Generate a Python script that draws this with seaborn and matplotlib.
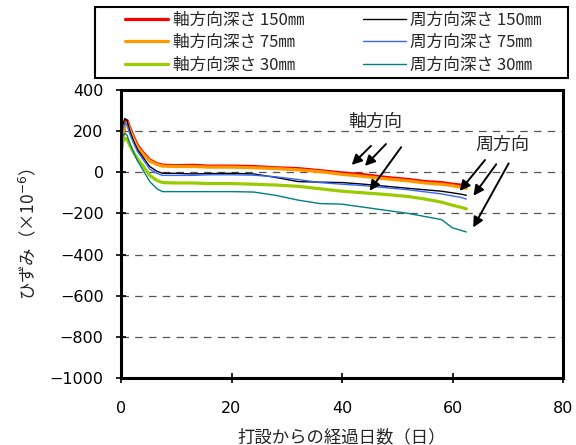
import matplotlib
matplotlib.use("Agg")
import matplotlib.pyplot as plt
from matplotlib.patches import Rectangle
import seaborn as sns
import pandas as pd
import numpy as np

sns.set_style("white")
plt.rcParams['font.family'] = ['Noto Sans CJK JP', 'DejaVu Sans']
plt.rcParams['axes.unicode_minus'] = True

days = [0, 0.3, 0.7, 1.1, 1.6, 2.3, 3.0, 4.0, 5.2, 6.5, 7.5, 10, 13, 16, 20, 24,
        28, 32, 36, 40, 44, 48, 52, 55, 58, 60, 61.5, 62.5]

axial_150 = [100, 180, 235, 252, 215, 170, 130, 95, 60, 42, 35, 32, 34, 30, 30, 28,
             22, 18, 8, -3, -12, -25, -35, -45, -50, -58, -62, -68]
axial_75 = [75, 160, 225, 242, 205, 160, 122, 88, 55, 38, 30, 28, 28, 25, 25, 22,
            18, 12, 3, -10, -20, -32, -42, -52, -58, -65, -72, -78]
axial_30 = [110, 150, 165, 160, 130, 95, 65, 30, -15, -40, -50, -52, -52, -55, -55, -58,
            -62, -68, -80, -92, -100, -108, -118, -130, -145, -160, -170, -178]
circ_150 = [150, 230, 262, 250, 200, 150, 110, 72, 28, 5, -5, -5, -8, -6, -5, -8,
            -25, -45, -48, -50, -58, -68, -78, -85, -92, -100, -106, -112]
circ_75 = [120, 205, 238, 230, 185, 140, 100, 62, 15, -5, -15, -15, -15, -12, -12, -14,
           -22, -35, -50, -58, -65, -75, -85, -95, -105, -115, -122, -130]
circ_30 = [130, 175, 190, 180, 140, 95, 55, 10, -45, -80, -94, -94, -94, -94, -94, -96,
           -112, -135, -152, -155, -170, -185, -200, -215, -230, -270, -282, -290]

labels = ["軸方向深さ 150㎜", "軸方向深さ 75㎜", "軸方向深さ 30㎜",
          "周方向深さ 150㎜", "周方向深さ 75㎜", "周方向深さ 30㎜"]
series = [axial_150, axial_75, axial_30, circ_150, circ_75, circ_30]
colors = ["#FF0000", "#FF9900", "#99CC00", "#000000", "#3366FF", "#008080"]
widths = [2.3, 2.3, 2.3, 1.0, 1.0, 1.0]

W, H = 576, 445
fig = plt.figure(figsize=(W / 100, H / 100), dpi=100)
ax = fig.add_axes([121 / W, 1 - 378 / H, (563 - 121) / W, (378 - 90) / H])

for lab, vals, c, w in zip(labels, series, colors, widths):
    df = pd.DataFrame({"day": days, "strain": vals})
    sns.lineplot(data=df, x="day", y="strain", ax=ax, color=c, linewidth=w,
                 label=lab, estimator=None, sort=False)

ax.set_xlim(0, 80)
ax.set_ylim(-1000, 400)
ax.set_xticks([0, 20, 40, 60, 80])
ax.set_yticks(np.arange(-1000, 401, 200))
for yv in range(-800, 201, 200):
    ax.axhline(yv, color="#555555", linestyle=(0, (6, 5)), linewidth=0.9, zorder=0)

for s in ax.spines.values():
    s.set_linewidth(2.2)
    s.set_color("black")
ax.tick_params(axis="both", direction="inout", length=7, width=1.2, labelsize=11.5,
               left=True, bottom=True, colors="black")
ax.tick_params(axis="x", pad=13)
ax.tick_params(axis="y", pad=9)
for t in ax.get_xticklabels() + ax.get_yticklabels():
    t.set_fontfamily("DejaVu Sans")

ax.set_xlabel("打設からの経過日数（日）", fontsize=12.5, labelpad=9)
ax.set_ylabel("ひずみ（×10$^{-6}$）", fontsize=12.5, labelpad=8)

# annotations
ax.text(46, 245, "軸方向", fontsize=13, ha="center", va="center")
ax.text(69.1, 132, "周方向", fontsize=13, ha="center", va="center")
arrow_kw = dict(arrowstyle="-|>,head_length=0.6,head_width=0.3", color="black", lw=1.4)
for (sx, sy, ex, ey) in [(45.6, 138, 41.4, 26), (48.3, 147, 43.8, 21), (51.0, 133, 44.7, -101),
                         (66.2, 70, 61.0, -101), (68.2, 50, 63.5, -125), (70.4, 55, 63.5, -280)]:
    ax.annotate("", xy=(ex, ey), xytext=(sx, sy), arrowprops=arrow_kw)

fs = 12
em = fs * 100 / 72
leg = ax.legend(ncol=2, loc="upper left", bbox_to_anchor=(125 / W, 1 - 12 / H),
                bbox_transform=fig.transFigure, frameon=False,
                fontsize=fs, handlelength=43 / em, handletextpad=5 / em,
                columnspacing=58 / em, borderaxespad=0, borderpad=0, labelspacing=0.32)
fig.patches.append(Rectangle((95 / W, 1 - 78 / H), (568 - 95) / W, 71 / H,
                             transform=fig.transFigure, fill=False, edgecolor="black",
                             linewidth=1.5, figure=fig))

fig.savefig("out.png", dpi=100)
